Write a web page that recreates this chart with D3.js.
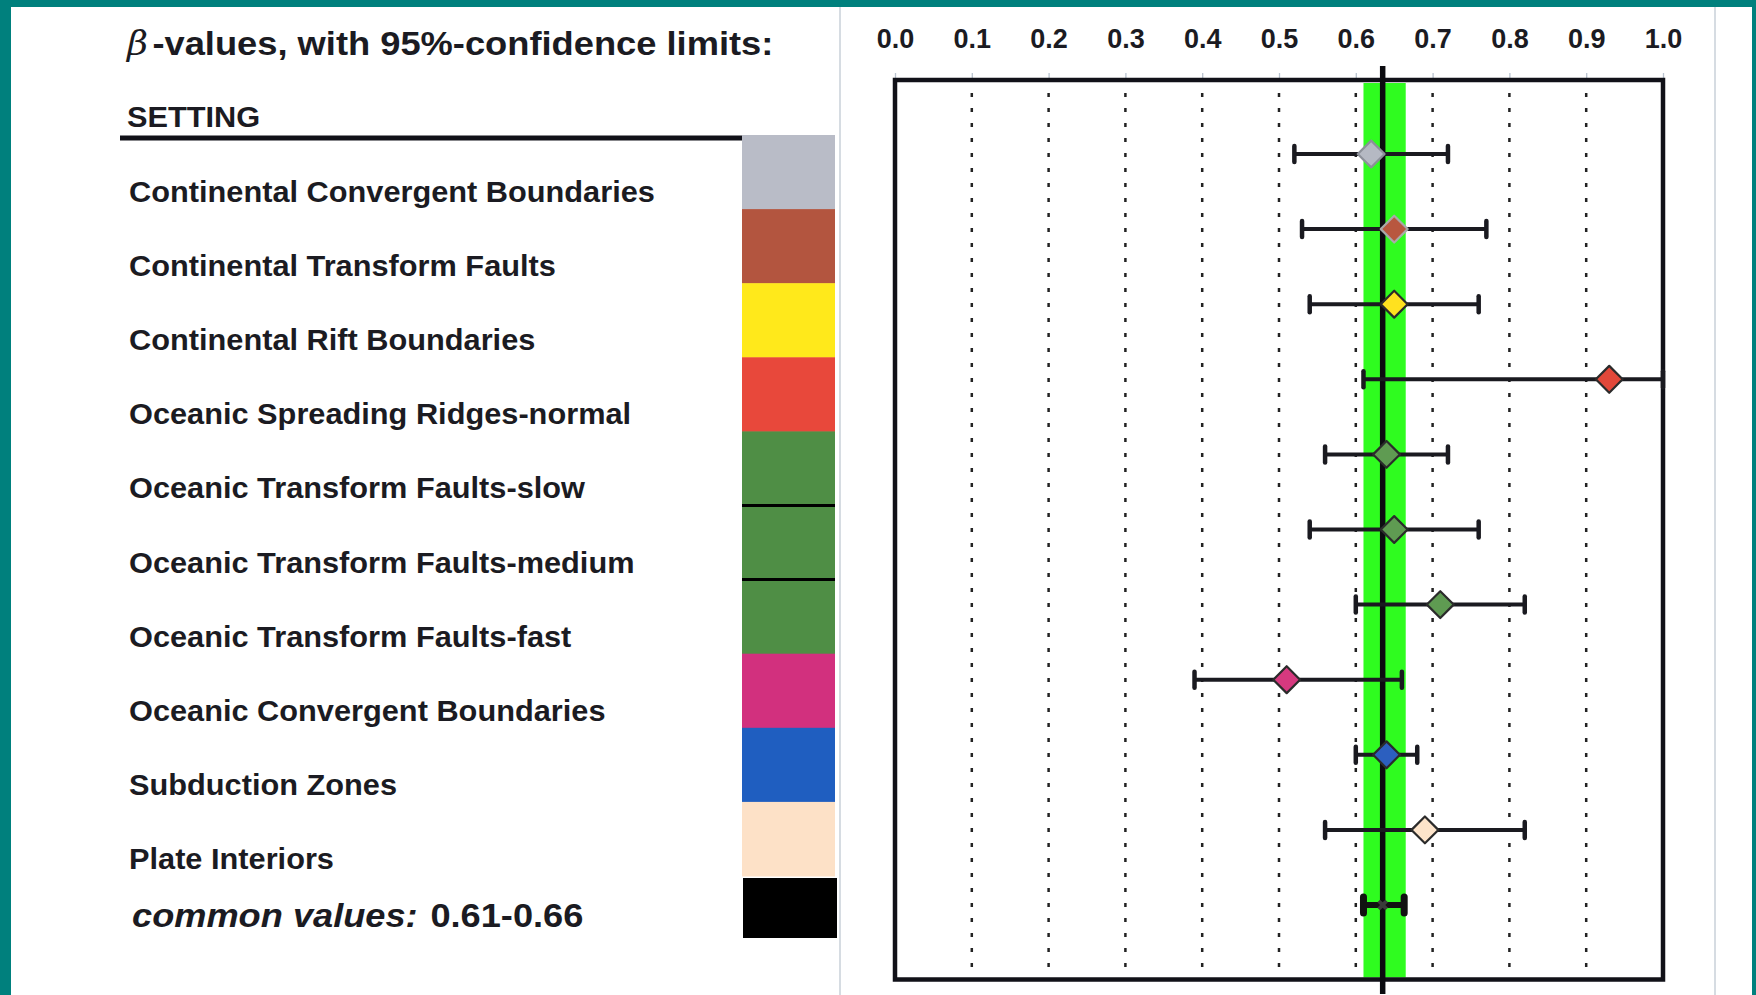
<!DOCTYPE html>
<html>
<head>
<meta charset="utf-8">
<script src="https://cdn.jsdelivr.net/npm/d3@7"></script>
<style>
  html, body { margin: 0; padding: 0; background: #ffffff; }
  svg { display: block; font-family: "Liberation Sans", Arial, Helvetica, sans-serif; }
</style>
</head>
<body>
<script>
// ---------------- data ----------------
const settings = [
  "Continental Convergent Boundaries",
  "Continental Transform Faults",
  "Continental Rift Boundaries",
  "Oceanic Spreading Ridges-normal",
  "Oceanic Transform Faults-slow",
  "Oceanic Transform Faults-medium",
  "Oceanic Transform Faults-fast",
  "Oceanic Convergent Boundaries",
  "Subduction Zones",
  "Plate Interiors"
];
const betaValues  = [0.62, 0.65, 0.65, 0.93, 0.64, 0.65, 0.71, 0.51, 0.64, 0.69];
const lowerLimits = [0.52, 0.53, 0.54, 0.61, 0.56, 0.54, 0.60, 0.39, 0.60, 0.56];
const upperLimits = [0.72, 0.77, 0.76, 1.00, 0.72, 0.76, 0.82, 0.66, 0.68, 0.82];
const settingColors = ["#b9bcc7", "#b3553f", "#ffe91b", "#e8483b", "#4f8e45",
                       "#4f8e45", "#4f8e45", "#d2307e", "#1f5ec0", "#fde1c7"];
const markerColors  = ["#b5b9c3", "#b8573f", "#ffe11f", "#e2483a", "#5f9b52",
                       "#5f9b52", "#5f9b52", "#d6397f", "#2c5fbf", "#fde4ca"];
const markerStrokes = ["#8c9099", "#a9a9a9", "#2b2b2b", "#2b2b2b", "#2b2b2b",
                       "#2b2b2b", "#2b2b2b", "#2b2b2b", "#2b2b2b", "#2b2b2b"];
const commonLabel = "common values:";
const commonText = "0.61-0.66";
const commonValue = 0.635;
const commonLimits = [0.61, 0.663];
const bandLimits = [0.61, 0.665];
const tickValues = [0.0, 0.1, 0.2, 0.3, 0.4, 0.5, 0.6, 0.7, 0.8, 0.9, 1.0];
const gridValues = [0.1, 0.2, 0.3, 0.4, 0.5, 0.6, 0.7, 0.8, 0.9];
const titleText = "-values, with 95%-confidence limits:";
const headerText = "SETTING";

// ---------------- layout ----------------
const W = 1756, H = 995;
const ink = "#1b1b22";
const svg = d3.select("body").append("svg").attr("width", W).attr("height", H);

svg.append("rect").attr("width", W).attr("height", H).attr("fill", "#ffffff");

// faint page edges
[840, 1715].forEach(xx => {
  svg.append("line").attr("x1", xx).attr("x2", xx).attr("y1", 7).attr("y2", H)
    .attr("stroke", "#d6dce2").attr("stroke-width", 2);
});

// teal frame
const teal = "#00807d";
svg.append("rect").attr("x", 0).attr("y", 0).attr("width", 11).attr("height", H).attr("fill", teal);
svg.append("rect").attr("x", 0).attr("y", 0).attr("width", W).attr("height", 7).attr("fill", teal);
svg.append("rect").attr("x", 1752).attr("y", 0).attr("width", 4).attr("height", H).attr("fill", teal);

// ---------------- title & header ----------------
const title = svg.append("text")
  .attr("transform", "translate(127,55) scale(1.1,1)")
  .attr("fill", ink).attr("font-size", 33);
title.append("tspan").attr("font-style", "italic").attr("font-weight", "normal")
  .attr("font-family", "'DejaVu Serif', 'Liberation Serif', serif").text("\u03B2");
title.append("tspan").attr("dx", 4).attr("font-weight", "bold").text(titleText);

svg.append("text")
  .attr("transform", "translate(127,127) scale(1.06,1)")
  .attr("fill", ink).attr("font-size", 29).attr("font-weight", "bold").text(headerText);

svg.append("line").attr("x1", 120).attr("x2", 742).attr("y1", 138).attr("y2", 138)
  .attr("stroke", "#111118").attr("stroke-width", 5);

// ---------------- legend column ----------------
const yLegend = d3.scaleBand().domain(settings).range([135, 876]).padding(0);

svg.append("g").selectAll("rect").data(settings).join("rect")
  .attr("x", 742).attr("width", 93)
  .attr("y", d => yLegend(d)).attr("height", yLegend.bandwidth() + 0.5)
  .attr("fill", (d, i) => settingColors[i]);

// separators between identically coloured rows
svg.append("g").selectAll("line")
  .data(settings.filter((d, i) => i > 0 && settingColors[i] === settingColors[i - 1]))
  .join("line")
  .attr("x1", 742).attr("x2", 835)
  .attr("y1", d => yLegend(d)).attr("y2", d => yLegend(d))
  .attr("stroke", "#000").attr("stroke-width", 3);

// black swatch for common values
svg.append("rect").attr("x", 743).attr("y", 878).attr("width", 94).attr("height", 60).attr("fill", "#000");

// labels
svg.append("g").selectAll("text").data(settings).join("text")
  .attr("transform", d => `translate(129,${yLegend(d) + 67}) scale(1.06,1)`)
  .attr("fill", ink).attr("font-size", 29).attr("font-weight", "bold")
  .text(d => d);

const common = svg.append("text")
  .attr("transform", "translate(132,927) scale(1.065,1)")
  .attr("fill", ink).attr("font-size", 34).attr("font-weight", "bold");
common.append("tspan").attr("font-style", "italic").text(commonLabel);
common.append("tspan").attr("dx", 12).text(commonText);

// ---------------- plot ----------------
const x = d3.scaleLinear().domain([0, 1]).range([895, 1663]);
const rows = [...settings, "common"];
const yRow = d3.scalePoint().domain(rows).range([154, 905]);
const boxTop = 80, boxBottom = 979.5;

// green band
svg.append("rect")
  .attr("x", x(bandLimits[0])).attr("width", x(bandLimits[1]) - x(bandLimits[0]))
  .attr("y", boxTop + 3).attr("height", boxBottom - boxTop - 5)
  .attr("fill", "#2ffc1f");

// dotted gridlines
svg.append("g").selectAll("line").data(gridValues).join("line")
  .attr("x1", d => x(d)).attr("x2", d => x(d))
  .attr("y1", 93).attr("y2", 975)
  .attr("stroke", "#222").attr("stroke-width", 2.5)
  .attr("stroke-dasharray", "4 11");

// axis on top
const axis = svg.append("g").attr("transform", `translate(0,${boxTop})`)
  .call(d3.axisTop(x).tickValues(tickValues).tickSize(7).tickPadding(25).tickFormat(d3.format(".1f")));
axis.select(".domain").remove();
axis.selectAll(".tick line").attr("stroke", "#b9c3cf").attr("stroke-width", 1.3);
axis.selectAll(".tick text")
  .attr("font-family", "'Liberation Sans', Arial, sans-serif")
  .attr("font-size", 27).attr("font-weight", "bold").attr("fill", ink);

// frame box
svg.append("rect")
  .attr("x", x(0)).attr("y", boxTop)
  .attr("width", x(1) - x(0)).attr("height", boxBottom - boxTop)
  .attr("fill", "none").attr("stroke", "#111118").attr("stroke-width", 4.5);

// central common-value line
svg.append("line")
  .attr("x1", x(commonValue)).attr("x2", x(commonValue))
  .attr("y1", 66).attr("y2", 994)
  .attr("stroke", "#0c0c10").attr("stroke-width", 5.5);

// error bars
const bars = svg.append("g");
settings.forEach((s, i) => {
  const yy = yRow(s);
  bars.append("line")
    .attr("x1", x(lowerLimits[i])).attr("x2", x(upperLimits[i]))
    .attr("y1", yy).attr("y2", yy)
    .attr("stroke", "#1a1a20").attr("stroke-width", 4);
  [lowerLimits[i], upperLimits[i]].forEach(v => {
    bars.append("line")
      .attr("x1", x(v)).attr("x2", x(v))
      .attr("y1", yy - 8).attr("y2", yy + 8)
      .attr("stroke", "#1a1a20").attr("stroke-width", 4.5)
      .attr("stroke-linecap", "round");
  });
});

// common row (thick bar)
{
  const yy = yRow("common");
  bars.append("line")
    .attr("x1", x(commonLimits[0])).attr("x2", x(commonLimits[1]))
    .attr("y1", yy).attr("y2", yy)
    .attr("stroke", "#111").attr("stroke-width", 6);
  commonLimits.forEach(v => {
    bars.append("line")
      .attr("x1", x(v)).attr("x2", x(v))
      .attr("y1", yy - 8).attr("y2", yy + 8)
      .attr("stroke", "#111").attr("stroke-width", 7)
      .attr("stroke-linecap", "round");
  });
  bars.append("path")
    .attr("d", d3.symbol(d3.symbolCross, 70)())
    .attr("transform", `translate(${x(commonValue)},${yy}) rotate(45)`)
    .attr("fill", "#3a3a3a");
}

// diamond markers
const diamond = d3.symbol(d3.symbolSquare, 360)();
svg.append("g").selectAll("path").data(settings).join("path")
  .attr("d", diamond)
  .attr("transform", (d, i) => `translate(${x(betaValues[i])},${yRow(d)}) rotate(45)`)
  .attr("fill", (d, i) => markerColors[i])
  .attr("stroke", (d, i) => markerStrokes[i])
  .attr("stroke-width", 2.2)
  .attr("stroke-linejoin", "round");
</script>
</body>
</html>
